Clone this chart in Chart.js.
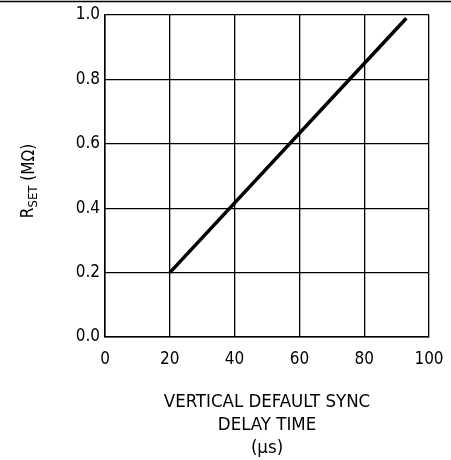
<!DOCTYPE html>
<html>
<head>
<meta charset="utf-8">
<style>
  html, body { margin: 0; padding: 0; background: #fff; }
  #wrap { position: relative; width: 451px; height: 460px; }
</style>
<script src="https://cdn.jsdelivr.net/npm/chart.js@4.4.1/dist/chart.umd.min.js"></script>
</head>
<body>
<div id="wrap"><canvas id="c" width="451" height="460"></canvas></div>
<script>
// Data
const delayTimeUs = [20, 93];          // x: vertical default sync delay time (µs)
const rsetMOhm = [0.2, 0.99];          // y: R_SET (MΩ)
const xTicks = [0, 20, 40, 60, 80, 100];
const yTicks = [0.0, 0.2, 0.4, 0.6, 0.8, 1.0];
const xTitleLines = ['VERTICAL DEFAULT SYNC', 'DELAY TIME', '(\u03BCs)'];
const yTitleMain = 'R';
const yTitleSub = 'SET';
const yTitleUnit = ' (M\u03A9)';

const FONT = "'DejaVu Sans Condensed', 'Liberation Sans Narrow', 'DejaVu Sans', sans-serif";

const topRule = {
  id: 'topRule',
  afterDraw(chart) {
    const ctx = chart.ctx;
    ctx.save();
    ctx.strokeStyle = '#000';
    ctx.lineWidth = 1.5;
    ctx.beginPath();
    ctx.moveTo(0, 1.5);
    ctx.lineTo(chart.width, 1.5);
    ctx.stroke();
    ctx.restore();
  }
};

const yTitlePlugin = {
  id: 'yTitlePlugin',
  afterDraw(chart) {
    const ctx = chart.ctx;
    const area = chart.chartArea;
    const cy = (area.top + area.bottom) / 2 + 5;
    const baseX = 33;
    ctx.save();
    ctx.fillStyle = '#000';
    const mainFont = "17px " + FONT;
    const subFont = "13px " + FONT;
    ctx.font = mainFont;
    const wR = ctx.measureText(yTitleMain).width;
    const wU = ctx.measureText(yTitleUnit).width;
    ctx.font = subFont;
    const wS = ctx.measureText(yTitleSub).width;
    const total = wR + wS + wU;
    ctx.translate(baseX, cy);
    ctx.rotate(-Math.PI / 2);
    ctx.textBaseline = 'alphabetic';
    ctx.textAlign = 'left';
    let x = -total / 2;
    ctx.font = mainFont;
    ctx.fillText(yTitleMain, x, 0);
    x += wR;
    ctx.font = subFont;
    ctx.fillText(yTitleSub, x, 4);
    x += wS;
    ctx.font = mainFont;
    ctx.fillText(yTitleUnit, x, 1);
    ctx.restore();
  }
};

const points = delayTimeUs.map((x, i) => ({ x: x, y: rsetMOhm[i] }));

new Chart(document.getElementById('c'), {
  type: 'scatter',
  data: {
    datasets: [{
      data: points,
      showLine: true,
      borderColor: '#000',
      borderWidth: 3.5,
      borderCapStyle: 'butt',
      pointRadius: 0,
      pointHoverRadius: 0,
      fill: false
    }]
  },
  options: {
    responsive: false,
    animation: false,
    devicePixelRatio: 1,
    layout: { padding: { top: 15, right: 22, left: 0, bottom: 0 } },
    plugins: {
      legend: { display: false },
      tooltip: { enabled: false },
      title: { display: false }
    },
    scales: {
      x: {
        type: 'linear',
        min: 0,
        max: 100,
        afterBuildTicks(scale) { scale.ticks = xTicks.map(v => ({ value: v })); },
        afterFit(scale) { scale.height = 123; scale.paddingLeft = 0; scale.paddingRight = 0; },
        grid: { color: '#000', lineWidth: 1.3, drawTicks: false },
        border: { color: '#000', width: 1.5 },
        ticks: {
          color: '#000',
          padding: 12,
          maxRotation: 0,
          font: { family: FONT, size: 17 },
          callback: v => String(v)
        },
        title: {
          display: true,
          text: xTitleLines,
          color: '#000',
          padding: { top: 0, bottom: 0 },
          font: { family: FONT, size: 18.5, lineHeight: 1.243 }
        }
      },
      y: {
        type: 'linear',
        min: 0,
        max: 1,
        afterBuildTicks(scale) { scale.ticks = yTicks.map(v => ({ value: v })); },
        afterFit(scale) { scale.width = 105; scale.paddingTop = 0; scale.paddingBottom = 0; },
        grid: { color: '#000', lineWidth: 1.3, drawTicks: false },
        border: { color: '#000', width: 1.5 },
        ticks: {
          color: '#000',
          padding: 5,
          font: { family: FONT, size: 17 },
          callback: v => Number(v).toFixed(1)
        },
        title: { display: false, text: 'RSET (M\u03A9)' }
      }
    }
  },
  plugins: [topRule, yTitlePlugin]
});
</script>
</body>
</html>
